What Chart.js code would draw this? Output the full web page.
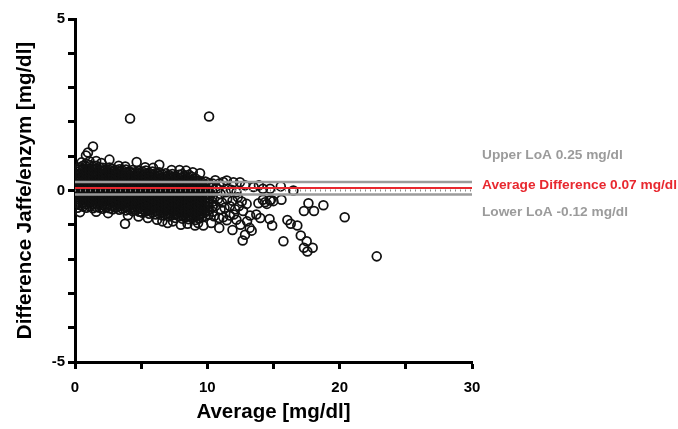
<!DOCTYPE html>
<html>
<head>
<meta charset="utf-8">
<script src="https://cdn.jsdelivr.net/npm/chart.js@4/dist/chart.umd.min.js"></script>
<style>
  body { margin: 0; background: #fff; }
</style>
</head>
<body>
<canvas id="blandAltman" width="678" height="429"></canvas>
<script>
// Bland-Altman: Jaffe vs enzymatisch (Werte aus der Grafik geschätzt)

// dichter Kern: Mittelwert-Spalten und die Differenzen je Spalte
const coreAvg = [0.12, 0.35, 0.6, 0.85, 1.1, 1.35, 1.6, 1.85, 2.1, 2.35, 2.6, 2.85, 3.1, 3.35, 3.6, 3.85,
  4.1, 4.35, 4.6, 4.85, 5.1, 5.35, 5.6, 5.85, 6.1, 6.35, 6.6, 6.85, 7.1, 7.35, 7.6, 7.85, 8.1, 8.35,
  8.6, 8.85, 9.1, 9.35, 9.6, 9.85, 10.1, 10.4];
const coreDiff = [
  [-0.36, -0.25, -0.14, -0.05, 0.05, 0.16, 0.26, 0.35, 0.46, 0.55],
  [-0.42, -0.31, -0.2, -0.1, 0.01, 0.1, 0.2, 0.31, 0.4, 0.5, 0.61, 0.68],
  [-0.47, -0.36, -0.27, -0.16, -0.05, 0.04, 0.15, 0.24, 0.35, 0.44, 0.55, 0.64, 0.72],
  [-0.5, -0.4, -0.29, -0.2, -0.09, 0.01, 0.11, 0.2, 0.3, 0.41, 0.5, 0.6, 0.7, 0.78],
  [-0.46, -0.37, -0.26, -0.15, -0.06, 0.05, 0.14, 0.25, 0.34, 0.45, 0.55, 0.64, 0.74],
  [-0.52, -0.41, -0.3, -0.21, -0.1, 0, 0.1, 0.2, 0.31, 0.4, 0.5, 0.61, 0.7],
  [-0.48, -0.38, -0.27, -0.17, -0.07, 0.04, 0.13, 0.24, 0.33, 0.44, 0.53, 0.64, 0.72],
  [-0.5, -0.4, -0.3, -0.19, -0.1, 0.01, 0.1, 0.21, 0.3, 0.4, 0.51, 0.6, 0.68],
  [-0.53, -0.42, -0.33, -0.22, -0.12, -0.02, 0.08, 0.18, 0.28, 0.38, 0.48, 0.58, 0.66],
  [-0.49, -0.39, -0.29, -0.18, -0.08, 0.03, 0.12, 0.22, 0.33, 0.42, 0.52, 0.62],
  [-0.52, -0.41, -0.31, -0.21, -0.11, 0, 0.1, 0.2, 0.3, 0.41, 0.5, 0.6, 0.67],
  [-0.55, -0.45, -0.34, -0.24, -0.14, -0.04, 0.06, 0.16, 0.27, 0.36, 0.46, 0.56, 0.63],
  [-0.5, -0.4, -0.3, -0.2, -0.09, 0.01, 0.11, 0.21, 0.31, 0.41, 0.51, 0.6],
  [-0.56, -0.46, -0.35, -0.25, -0.15, -0.05, 0.05, 0.15, 0.25, 0.35, 0.45, 0.55, 0.62],
  [-0.53, -0.42, -0.32, -0.22, -0.12, -0.02, 0.08, 0.18, 0.28, 0.39, 0.48, 0.58],
  [-0.58, -0.48, -0.37, -0.27, -0.17, -0.07, 0.03, 0.13, 0.23, 0.33, 0.43, 0.53, 0.61],
  [-0.55, -0.45, -0.35, -0.24, -0.14, -0.04, 0.06, 0.16, 0.26, 0.36, 0.46, 0.56],
  [-0.6, -0.5, -0.4, -0.29, -0.19, -0.09, 0.01, 0.11, 0.21, 0.31, 0.41, 0.51, 0.6],
  [-0.57, -0.47, -0.37, -0.26, -0.16, -0.06, 0.04, 0.14, 0.24, 0.34, 0.44, 0.54],
  [-0.62, -0.52, -0.41, -0.31, -0.21, -0.11, -0.01, 0.09, 0.19, 0.29, 0.39, 0.49, 0.57],
  [-0.65, -0.55, -0.45, -0.34, -0.24, -0.14, -0.04, 0.06, 0.16, 0.26, 0.36, 0.46, 0.55],
  [-0.61, -0.51, -0.41, -0.31, -0.21, -0.1, 0, 0.1, 0.2, 0.3, 0.4, 0.5, 0.58],
  [-0.68, -0.58, -0.47, -0.37, -0.27, -0.17, -0.07, 0.03, 0.13, 0.23, 0.33, 0.43, 0.52],
  [-0.64, -0.54, -0.44, -0.34, -0.23, -0.13, -0.03, 0.07, 0.17, 0.27, 0.37, 0.47, 0.55],
  [-0.7, -0.6, -0.5, -0.4, -0.3, -0.2, -0.09, 0.01, 0.11, 0.21, 0.31, 0.41, 0.5],
  [-0.67, -0.57, -0.47, -0.36, -0.26, -0.16, -0.06, 0.04, 0.14, 0.24, 0.34, 0.44, 0.53],
  [-0.73, -0.63, -0.52, -0.42, -0.32, -0.22, -0.12, -0.02, 0.08, 0.18, 0.28, 0.38, 0.47],
  [-0.7, -0.6, -0.5, -0.4, -0.29, -0.19, -0.09, 0.01, 0.11, 0.21, 0.31, 0.41, 0.5],
  [-0.76, -0.66, -0.56, -0.45, -0.35, -0.25, -0.15, -0.05, 0.05, 0.15, 0.25, 0.35, 0.45],
  [-0.72, -0.62, -0.52, -0.42, -0.32, -0.21, -0.11, -0.01, 0.09, 0.19, 0.29, 0.39, 0.48],
  [-0.8, -0.69, -0.59, -0.49, -0.39, -0.28, -0.18, -0.08, 0.02, 0.12, 0.22, 0.32, 0.42],
  [-0.75, -0.65, -0.55, -0.45, -0.35, -0.24, -0.14, -0.04, 0.06, 0.16, 0.26, 0.36, 0.46],
  [-0.82, -0.72, -0.62, -0.51, -0.41, -0.31, -0.21, -0.11, -0.01, 0.09, 0.19, 0.29, 0.39, 0.48],
  [-0.78, -0.68, -0.58, -0.48, -0.37, -0.27, -0.17, -0.07, 0.03, 0.13, 0.23, 0.33, 0.42],
  [-0.84, -0.74, -0.64, -0.54, -0.44, -0.33, -0.23, -0.13, -0.03, 0.07, 0.17, 0.27, 0.37, 0.46],
  [-0.8, -0.7, -0.6, -0.5, -0.4, -0.3, -0.19, -0.09, 0.01, 0.11, 0.21, 0.31, 0.4],
  [-0.86, -0.76, -0.65, -0.55, -0.45, -0.35, -0.25, -0.15, -0.05, 0.05, 0.15, 0.25, 0.35],
  [-0.82, -0.72, -0.61, -0.51, -0.41, -0.31, -0.21, -0.11, -0.01, 0.09, 0.19, 0.29],
  [-0.78, -0.68, -0.58, -0.48, -0.38, -0.28, -0.17, -0.07, 0.03, 0.13, 0.23],
  [-0.74, -0.63, -0.53, -0.43, -0.33, -0.23, -0.13, -0.03, 0.07, 0.17, 0.26],
  [-0.7, -0.58, -0.47, -0.36, -0.24, -0.12, 0.0, 0.12, 0.22],
  [-0.62, -0.48, -0.33, -0.18, -0.05, 0.1, 0.2]
];

// Randpunkte um den Kern herum [Mittelwert, Differenz]
const edgePoints = [
  [0.83, 1.02], [0.98, 1.11], [1.36, 1.28], [1.1, 0.85], [0.5, 0.82], [2.6, 0.9], [4.66, 0.83],
  [6.37, 0.75], [8.9, 0.53], [9.45, 0.5], [3.3, 0.72], [5.3, 0.68], [7.3, 0.6], [2.0, 0.8],
  [1.6, 0.86], [3.8, 0.7], [5.9, 0.66], [7.9, 0.6], [8.4, 0.58],
  [0.38, -0.63], [0.2, -0.5], [1.6, -0.62], [2.5, -0.66], [3.78, -0.97], [4.0, -0.72], [4.8, -0.76],
  [5.5, -0.8], [6.2, -0.85], [6.6, -0.9], [7.0, -0.95], [7.4, -0.9], [8.0, -1.0], [8.5, -0.97],
  [9.07, -1.02], [9.7, -1.02], [9.3, -0.95]
];

// verstreute Punkte bei höheren Werten und Ausreißer
const outerPoints = [
  [4.16, 2.1], [10.13, 2.16],
  [10.6, 0.3], [10.9, 0.2], [11.2, 0.25], [11.47, 0.29], [11.97, 0.24], [12.47, 0.24], [12.85, 0.15],
  [10.7, 0.05], [11.0, -0.1], [11.4, -0.05], [11.8, 0.02], [12.2, -0.05], [10.8, -0.25], [11.1, -0.35],
  [11.5, -0.25], [11.9, -0.3], [12.3, -0.2], [12.6, -0.32], [10.6, -0.45], [11.0, -0.55], [11.3, -0.5],
  [11.7, -0.45], [12.1, -0.55], [12.4, -0.45], [10.5, -0.75], [10.9, -0.8], [11.2, -0.78], [11.7, -0.73],
  [11.47, -0.87], [12.0, -0.7], [10.9, -1.09], [11.9, -1.15], [10.3, -0.95], [12.97, -0.39], [13.23, -0.73],
  [13.7, -0.7], [13.2, -1.09], [13.35, -1.17], [12.85, -1.29], [12.67, -1.46], [12.7, -0.6], [13.0, -0.9],
  [12.5, -1.0], [12.2, -0.85],
  [13.86, -0.37], [14.36, -0.34], [14.74, -0.29], [14.99, -0.31], [15.6, -0.27], [14.2, -0.27], [14.8, -0.27],
  [14.5, -0.39], [14.0, -0.8], [14.7, -0.83], [14.9, -1.02], [14.74, 0.05], [15.55, 0.12], [16.5, 0.0],
  [13.5, 0.1], [13.9, 0.15], [14.2, 0.05], [17.64, -0.37], [17.3, -0.6], [18.06, -0.6], [18.77, -0.43],
  [20.38, -0.78], [22.8, -1.92], [15.75, -1.48], [17.06, -1.31], [17.51, -1.48], [17.96, -1.67],
  [17.56, -1.78], [17.3, -1.67], [16.05, -0.86], [16.3, -0.97], [16.8, -1.02]
];

// Limits of Agreement
const loaLabels = ['Upper LoA 0.25 mg/dl', 'Average Difference 0.07 mg/dl', 'Lower LoA -0.12 mg/dl'];
const loaValues = [0.25, 0.07, -0.12];
const zeroLine = 0;
const xRange = [0, 30];
const yRange = [-5, 5];

const points = [];
coreAvg.forEach((x, i) => coreDiff[i].forEach(y => points.push({ x: x, y: y })));
edgePoints.concat(outerPoints).forEach(p => points.push({ x: p[0], y: p[1] }));

const hLine = v => xRange.map(x => ({ x: x, y: v }));

const grey = '#9b9b9b';
const red = '#e8282f';
const bold = { family: 'Liberation Sans, Arial, sans-serif', weight: 'bold' };

// Beschriftung der LoA-Linien rechts neben dem Plot
const loaTextPlugin = {
  id: 'loaText',
  afterDraw(chart) {
    const ctx = chart.ctx;
    const y = chart.scales.y;
    const left = chart.chartArea.right + 10;
    const offsets = [-27, -3, 18];
    const colors = [grey, red, grey];
    ctx.save();
    ctx.font = 'bold 13.7px Liberation Sans, Arial, sans-serif';
    ctx.textBaseline = 'middle';
    loaLabels.forEach((t, i) => {
      ctx.fillStyle = colors[i];
      ctx.fillText(t, left, y.getPixelForValue(loaValues[i]) + offsets[i]);
    });
    ctx.restore();
  }
};

new Chart(document.getElementById('blandAltman'), {
  type: 'scatter',
  data: {
    datasets: [
      { data: hLine(loaValues[0]), showLine: true, borderColor: grey, borderWidth: 2.5, pointRadius: 0, order: 1 },
      { data: hLine(loaValues[2]), showLine: true, borderColor: grey, borderWidth: 2.5, pointRadius: 0, order: 1 },
      { data: hLine(zeroLine), showLine: true, borderColor: '#8a8a8a', borderWidth: 2, borderDash: [1, 4], pointRadius: 0, order: 1 },
      { data: hLine(loaValues[1]), showLine: true, borderColor: red, borderWidth: 2, pointRadius: 0, order: 0 },
      {
        data: points,
        pointRadius: 4.4,
        borderWidth: 1.75,
        borderColor: '#111',
        backgroundColor: 'rgba(0,0,0,0)',
        order: 2
      }
    ]
  },
  options: {
    responsive: false,
    animation: false,
    layout: { padding: { left: 9, right: 206, top: 19, bottom: 0 } },
    plugins: { legend: { display: false }, tooltip: { enabled: false } },
    scales: {
      x: {
        min: xRange[0], max: xRange[1],
        afterFit: s => { s.height = 67; },
        border: { color: '#000', width: 3 },
        grid: { drawOnChartArea: false, color: '#000', tickLength: 7, tickWidth: 3 },
        ticks: {
          stepSize: 5, autoSkip: false, maxRotation: 0, color: '#000', padding: 10,
          font: Object.assign({ size: 15 }, bold),
          callback: v => (v % 10 === 0 ? v : '')
        },
        title: { display: true, text: 'Average [mg/dl]', color: '#000', font: Object.assign({ size: 20.5 }, bold) }
      },
      y: {
        min: yRange[0], max: yRange[1],
        afterFit: s => { s.width = 66; },
        border: { color: '#000', width: 3 },
        grid: { drawOnChartArea: false, color: '#000', tickLength: 7, tickWidth: 3 },
        ticks: {
          stepSize: 1, autoSkip: false, color: '#000', padding: 3,
          font: Object.assign({ size: 15 }, bold),
          callback: v => (v % 5 === 0 ? v : '')
        },
        title: { display: true, text: 'Difference Jaffe/enzym [mg/dl]', color: '#000', font: Object.assign({ size: 20.5 }, bold) }
      }
    }
  },
  plugins: [loaTextPlugin]
});
</script>
</body>
</html>
